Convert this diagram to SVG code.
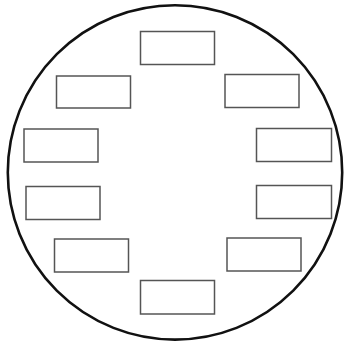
<svg xmlns="http://www.w3.org/2000/svg" width="345" height="346" viewBox="0 0 345 346">
<style>
.c{fill:#fff;stroke:#111;stroke-width:2.6}
.n{fill:#fff;stroke:#555;stroke-width:1.5}
</style>
<rect width="345" height="346" fill="#fff"/>
<circle class="c" cx="175" cy="172.4" r="167.2"/>
<g id="connectors"></g>
<g id="n1"><rect class="n" x="140.5" y="31.5" width="74" height="33"/></g>
<g id="n2"><rect class="n" x="225" y="74.5" width="74" height="33"/></g>
<g id="n3"><rect class="n" x="256.5" y="128.5" width="75" height="33"/></g>
<g id="n4"><rect class="n" x="256.5" y="185.5" width="75" height="33"/></g>
<g id="n5"><rect class="n" x="227" y="238" width="74" height="33"/></g>
<g id="n6"><rect class="n" x="140.5" y="280.5" width="74" height="33.5"/></g>
<g id="n7"><rect class="n" x="54.5" y="239" width="74" height="33"/></g>
<g id="n8"><rect class="n" x="26" y="186.5" width="74" height="33"/></g>
<g id="n9"><rect class="n" x="24" y="129" width="74" height="33"/></g>
<g id="n10"><rect class="n" x="56.5" y="76" width="74" height="32"/></g>
</svg>
